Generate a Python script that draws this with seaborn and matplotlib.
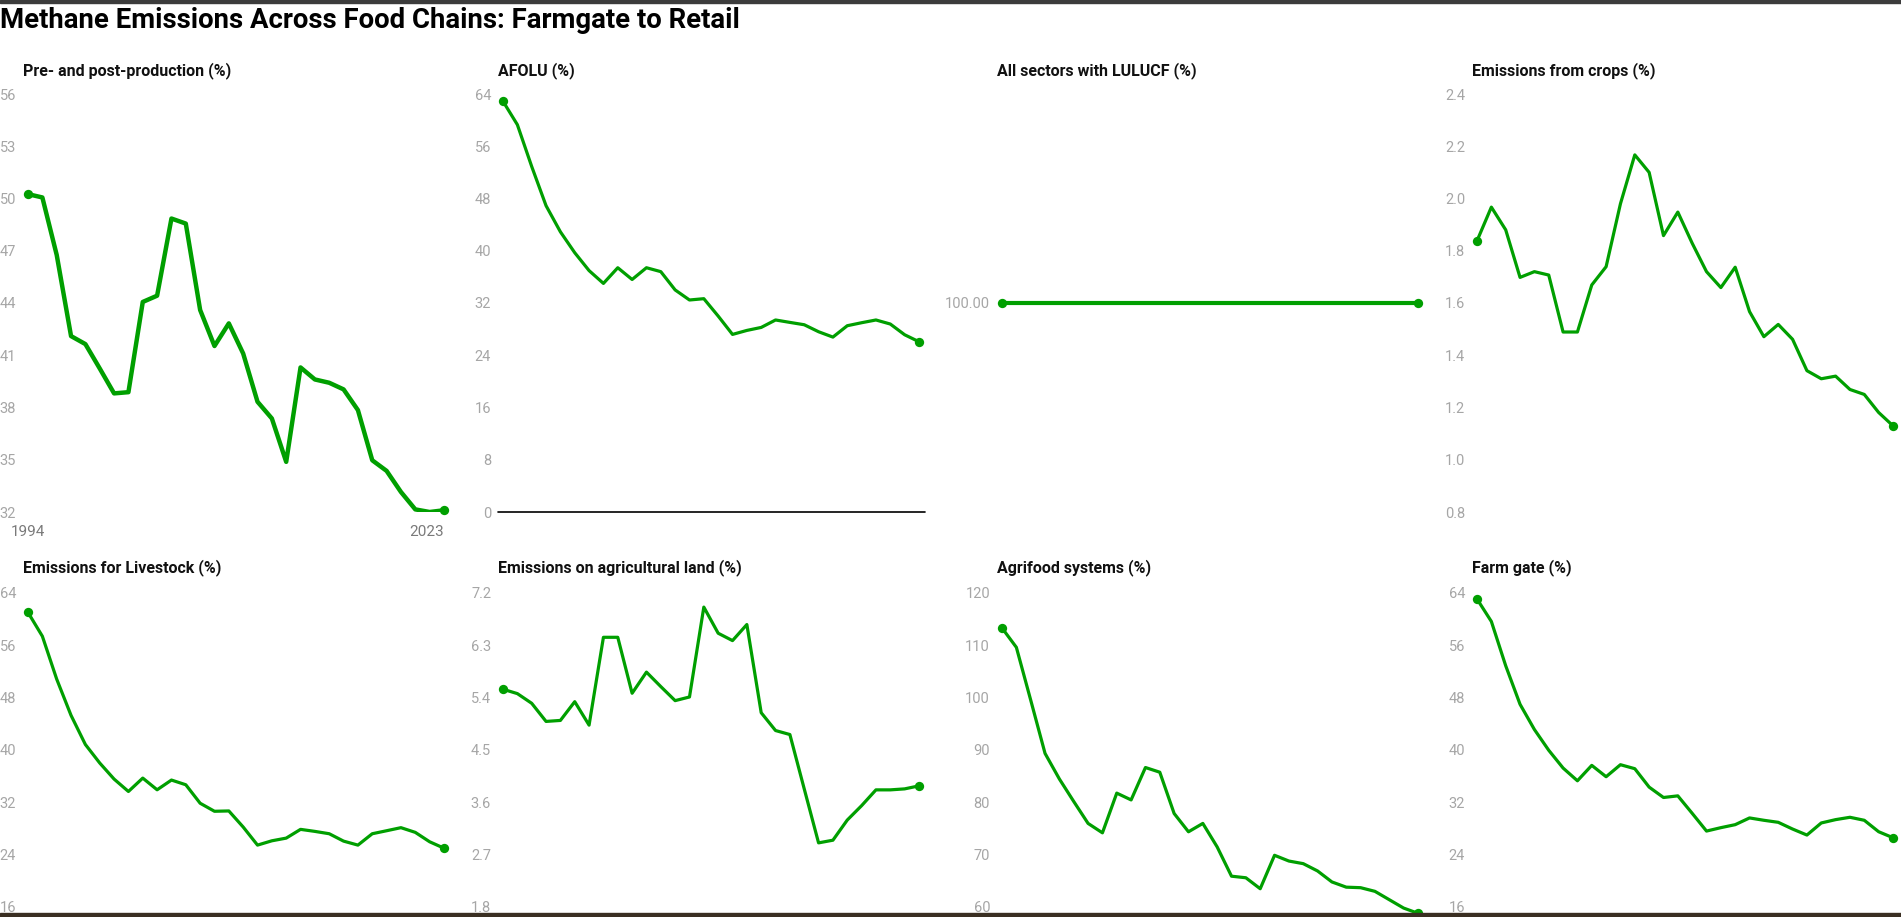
import matplotlib
matplotlib.use("Agg")
import matplotlib.pyplot as plt
from matplotlib.patches import Rectangle
import seaborn as sns

# %% data

years = list(range(1994, 2024))

pre_post = [50.25, 50.06, 46.76, 42.10, 41.64, 40.24, 38.81, 38.88, 44.06, 44.42,
            48.85, 48.56, 43.60, 41.53, 42.83, 41.10, 38.33, 37.37, 34.88, 40.30,
            39.61, 39.42, 39.04, 37.85, 34.97, 34.36, 33.15, 32.15, 32.00, 32.10]
afolu = [62.88, 59.30, 52.90, 46.90, 42.90, 39.70, 36.96, 35.00, 37.40, 35.60,
         37.40, 36.80, 34.00, 32.46, 32.66, 30.00, 27.19, 27.80, 28.26, 29.40,
         29.03, 28.67, 27.60, 26.78, 28.52, 28.98, 29.40, 28.78, 27.14, 26.07]
all_sectors = [100.0, 100.0, 100.0, 100.0, 100.0, 100.0, 100.0, 100.0, 100.0, 100.0,
               100.0, 100.0, 100.0, 100.0, 100.0, 100.0, 100.0, 100.0, 100.0, 100.0,
               100.0, 100.0, 100.0, 100.0, 100.0, 100.0, 100.0, 100.0, 100.0, 100.0]
crops = [1.838, 1.967, 1.880, 1.698, 1.720, 1.707, 1.489, 1.489, 1.669, 1.739,
         1.980, 2.167, 2.100, 1.858, 1.948, 1.829, 1.720, 1.659, 1.737, 1.567,
         1.471, 1.518, 1.461, 1.341, 1.310, 1.320, 1.269, 1.250, 1.181, 1.130]
livestock = [61.02, 57.38, 50.81, 45.26, 40.80, 37.97, 35.51, 33.61, 35.66, 33.87,
             35.36, 34.64, 31.81, 30.58, 30.63, 28.17, 25.40, 26.06, 26.47, 27.81,
             27.50, 27.14, 26.01, 25.40, 27.14, 27.60, 28.07, 27.35, 25.91, 24.93]
ag_land = [5.542, 5.467, 5.300, 4.988, 5.005, 5.328, 4.924, 6.437, 6.437, 5.473,
           5.837, 5.588, 5.346, 5.409, 6.957, 6.507, 6.380, 6.657, 5.138, 4.831,
           4.762, 3.826, 2.896, 2.942, 3.289, 3.537, 3.809, 3.809, 3.826, 3.878]
agrifood = [113.3, 109.6, 99.5, 89.3, 84.4, 80.1, 75.9, 74.1, 81.7, 80.4,
            86.6, 85.7, 77.8, 74.3, 75.9, 71.4, 65.8, 65.5, 63.4, 69.8,
            68.7, 68.2, 66.8, 64.7, 63.7, 63.6, 62.9, 61.3, 59.7, 58.7]
farm_gate = [63.08, 59.64, 52.86, 46.96, 43.10, 39.92, 37.20, 35.25, 37.61, 35.87,
             37.71, 37.10, 34.28, 32.69, 32.94, 30.27, 27.55, 28.07, 28.53, 29.56,
             29.20, 28.89, 27.86, 26.94, 28.79, 29.30, 29.66, 29.20, 27.45, 26.53]

titles = ["Pre- and post-production (%)", "AFOLU (%)", "All sectors with LULUCF (%)",
          "Emissions from crops (%)", "Emissions for Livestock (%)",
          "Emissions on agricultural land (%)", "Agrifood systems (%)", "Farm gate (%)"]

# visible tick labels; the bottom row runs past the lower edge of the frame
pre_post_ticks = [32, 35, 38, 41, 44, 47, 50, 53, 56]
afolu_ticks = [0, 8, 16, 24, 32, 40, 48, 56, 64]
all_sectors_ticks = [100]
crops_ticks = [0.8, 1.0, 1.2, 1.4, 1.6, 1.8, 2.0, 2.2, 2.4]
livestock_ticks = [16, 24, 32, 40, 48, 56, 64]
ag_land_ticks = [1.8, 2.7, 3.6, 4.5, 5.4, 6.3, 7.2]
agrifood_ticks = [60, 70, 80, 90, 100, 110, 120]
farm_gate_ticks = [16, 24, 32, 40, 48, 56, 64]

# full y ranges (axis min, axis max)
y_ranges = [(32, 56), (0, 64), (99, 101), (0.8, 2.4),
            (0, 64), (0.0, 7.2), (40, 120), (0, 64)]

# %% styling

sns.set_theme(style="white")
plt.rcParams["font.family"] = ["Roboto", "DejaVu Sans"]

GREEN = "#009f00"
TICK_GREY = "#a6a6a6"
W, H = 1901, 917

fig = plt.figure(figsize=(W / 100, H / 100), dpi=100)
fig.patch.set_facecolor("white")


def px_axes(left, top, w, h):
    return fig.add_axes([left / W, 1 - (top + h) / H, w / W, h / H])


panels = [
    (pre_post, pre_post_ticks, "{:.0f}", 3.2),
    (afolu, afolu_ticks, "{:.0f}", 2.3),
    (all_sectors, all_sectors_ticks, "{:.2f}", 3.0),
    (crops, crops_ticks, "{:.1f}", 2.3),
    (livestock, livestock_ticks, "{:.0f}", 2.3),
    (ag_land, ag_land_ticks, "{:.1f}", 2.3),
    (agrifood, agrifood_ticks, "{:.0f}", 2.3),
    (farm_gate, farm_gate_ticks, "{:.0f}", 2.3),
]

lefts = [23, 498, 997, 1472]
tops = [94, 593]
title_y = [71, 568]

for i, (vals, ticks, fmt, lw) in enumerate(panels):
    row, col = divmod(i, 4)
    ax = px_axes(lefts[col], tops[row], 427, 418)
    ax.set_facecolor("none")

    sns.lineplot(x=years, y=vals, ax=ax, color=GREEN, linewidth=lw)
    ax.scatter([years[0], years[-1]], [vals[0], vals[-1]], s=45, color=GREEN,
               zorder=3, clip_on=False, linewidths=0)

    ax.set_xlim(1993.65, 2023.42)
    ax.set_ylim(*y_ranges[i])
    ax.set_yticks(ticks)
    ax.set_yticklabels([fmt.format(t) for t in ticks])

    if i == 0:
        ax.set_xticks([years[0], years[-1]])
        ax.set_xticklabels([str(years[0]), str(years[-1])])
        ax.get_xticklabels()[-1].set_horizontalalignment("right")
        ax.tick_params(axis="x", labelcolor="#7a7a7a", labelsize=11, pad=9)
    else:
        ax.set_xticks([])

    if y_ranges[i][0] == 0:
        ax.axhline(0, color="black", linewidth=1.2, clip_on=False)

    ax.tick_params(axis="y", length=0, pad=5, labelcolor=TICK_GREY, labelsize=10.5)
    ax.tick_params(axis="x", length=0)
    sns.despine(ax=ax, left=True, bottom=True)
    ax.set_xlabel("")
    ax.set_ylabel("")

    fig.text(lefts[col] / W, 1 - title_y[row] / H, titles[i], ha="left", va="center",
             fontsize=11.5, fontweight="bold", color="#111111")

fig.text(0, 1 - 20 / H, "Methane Emissions Across Food Chains: Farmgate to Retail",
         ha="left", va="center", fontsize=19.8, fontweight="bold", color="black")

# frame bars at top and bottom
fig.add_artist(Rectangle((0, 1 - 3 / H), 1, 3 / H, transform=fig.transFigure,
                         color="#3c3c3c", zorder=10))
fig.add_artist(Rectangle((0, 0), 1, 4 / H, transform=fig.transFigure,
                         color="#3a2f22", zorder=10))

fig.savefig("out.png", dpi=100, facecolor="white")
